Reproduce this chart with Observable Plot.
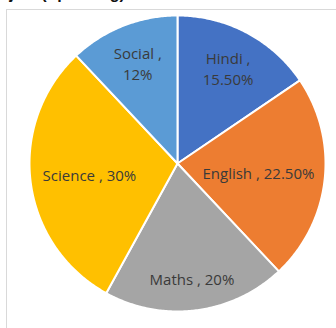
<!DOCTYPE html>
<html><head><meta charset="utf-8">
<script src="https://cdn.jsdelivr.net/npm/d3@7"></script>
<script src="https://cdn.jsdelivr.net/npm/@observablehq/plot@0.6"></script>
<style>
html,body{margin:0;padding:0;background:#fff;overflow:hidden;}
#wrap{position:relative;width:336px;height:328px;overflow:hidden;}
#frame{position:absolute;left:6px;top:9px;right:-2px;bottom:-2px;border-left:1.5px solid #d9d9d9;border-top:1.5px solid #d9d9d9;}
#title{position:absolute;top:-15px;white-space:nowrap;font:bold 16px "Liberation Sans",Arial,sans-serif;color:#111;}
#chart{position:absolute;left:0;top:0;}
</style></head>
<body>
<div id="wrap"><div id="frame"></div><div id="title"><span id="pre">Expenditure by Sub</span>ject (Spending)</div><div id="chart"></div></div>
<script>
const categories = ["Hindi", "English", "Maths", "Science", "Social"];
const values = [15.5, 22.5, 20, 30, 12];
const valueLabels = ["15.50%", "22.50%", "20%", "30%", "12%"];
const colors = ["#4472C4", "#ED7D31", "#A5A5A5", "#FFC000", "#5B9BD5"];

// layout of labels (radius fraction and line break), separate from data
const labelRadius = [0.73, 0.55, 0.78, 0.6, 0.73];
const twoLine = [true, false, false, false, true];

const pie = d3.pie().sort(null).value(d => d)(values);
const slices = [];
const labels = [];
pie.forEach((p, i) => {
  const pts = [{x: 0, y: 0}];
  const n = Math.max(4, Math.ceil((p.endAngle - p.startAngle) / 0.01));
  for (let k = 0; k <= n; k++) {
    const a = p.startAngle + (p.endAngle - p.startAngle) * k / n;
    pts.push({x: Math.sin(a), y: Math.cos(a)});
  }
  pts.push({x: 0, y: 0});
  slices.push({cat: categories[i], color: colors[i], pts});
  const mid = (p.startAngle + p.endAngle) / 2;
  const r = labelRadius[i];
  labels.push({x: r * Math.sin(mid), y: r * Math.cos(mid),
    text: categories[i] + " ," + (twoLine[i] ? "\n" : " ") + valueLabels[i]});
});

const cx = 177, cy = 163, R = 148;
const plot = Plot.plot({
  width: 336, height: 328,
  margin: 0,
  style: {background: "transparent", overflow: "visible"},
  x: {domain: [-1, 1], range: [cx - R, cx + R], axis: null},
  y: {domain: [-1, 1], range: [cy + R, cy - R], axis: null},
  marks: [
    ...slices.map(s => Plot.line(s.pts, {x: "x", y: "y", fill: s.color, stroke: "#fff", strokeWidth: 2, strokeLinejoin: "round"})),
    Plot.text(labels, {x: "x", y: "y", text: "text", fill: "#3a3a3a", fontSize: 15, lineHeight: 1.4,
      fontFamily: "'Open Sans', 'Liberation Sans', sans-serif", textAnchor: "middle"})
  ]
});
document.getElementById("chart").appendChild(plot);
const title = document.getElementById("title");
title.style.left = (9 - document.getElementById("pre").offsetWidth) + "px";
</script>
</body></html>
